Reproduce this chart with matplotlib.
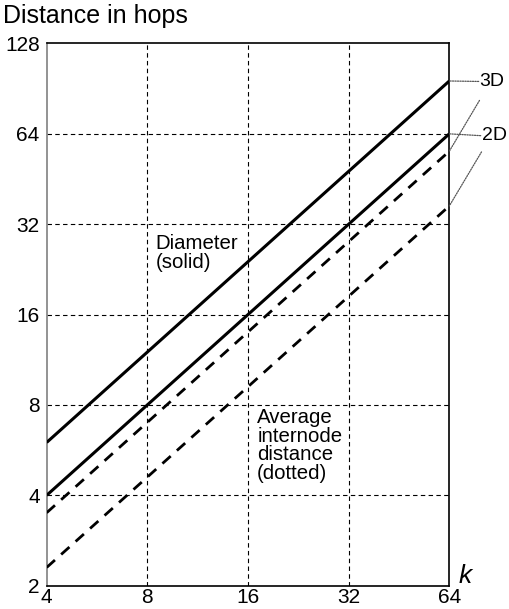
import matplotlib
matplotlib.use("Agg")
from matplotlib import pyplot as plt
from matplotlib.ticker import FixedLocator, NullLocator

plt.rcParams['font.family'] = ['Liberation Sans', 'DejaVu Sans']

# values
k = [4, 8, 16, 32, 64]
diam_3d = [6, 12, 24, 48, 96]
diam_2d = [4, 8, 16, 32, 64]
avg_3d = [3.5, 7, 14, 28, 56]
avg_2d = [2.3, 4.6, 9.2, 18.4, 36.8]

x_ticks = [4, 8, 16, 32, 64]
y_ticks = [2, 4, 8, 16, 32, 64, 128]

fig = plt.figure(figsize=(5.09, 6.09), dpi=100)
ax = fig.add_axes([0.0917, 0.0383, 0.7910, 0.8903])

ax.set_xscale('log', base=2)
ax.set_yscale('log', base=2)
ax.set_xlim(4, 64)
ax.set_ylim(2, 128)

# grid
for gx in x_ticks[1:-1]:
    ax.axvline(gx, color='black', lw=0.8, ls=(0, (4, 3)), zorder=1)
for gy in y_ticks[1:-1]:
    ax.axhline(gy, color='black', lw=0.8, ls=(0, (4, 3)), zorder=1)

ax.plot(k, diam_3d, color='black', lw=2.2, solid_capstyle='butt', zorder=3)
ax.plot(k, diam_2d, color='black', lw=2.2, solid_capstyle='butt', zorder=3)
ax.plot(k, avg_3d, color='black', lw=2.0, ls=(0, (4, 3)), zorder=3)
ax.plot(k, avg_2d, color='black', lw=2.0, ls=(0, (4, 3)), zorder=3)

ax.xaxis.set_major_locator(FixedLocator(x_ticks))
ax.yaxis.set_major_locator(FixedLocator(y_ticks))
ax.xaxis.set_minor_locator(NullLocator())
ax.yaxis.set_minor_locator(NullLocator())
ax.set_xticklabels([str(v) for v in x_ticks])
ax.set_yticklabels([str(v) for v in y_ticks])
ax.tick_params(length=0, labelsize=15, pad=5)
ax.tick_params(axis='x', pad=2)

for side in ['top', 'right', 'bottom']:
    ax.spines[side].set_color('black')
    ax.spines[side].set_linewidth(1.2)
ax.spines['left'].set_color('#808080')
ax.spines['left'].set_linewidth(1.2)

fig.text(0.006, 0.962, 'Distance in hops', fontsize=18, va='baseline', ha='left')
ax.text(1.04, -0.005, 'k', transform=ax.transAxes, fontsize=19, style='italic',
        ha='center', va='bottom')

ax.text(0.27, 0.648, 'Diameter\n(solid)', transform=ax.transAxes, fontsize=14.7,
        ha='left', va='top', linespacing=0.98)
ax.text(0.523, 0.328, 'Average\ninternode\ndistance\n(dotted)', transform=ax.transAxes,
        fontsize=14.7, ha='left', va='top', linespacing=0.98)

# leader lines to the labels
lead = dict(arrowstyle='-', color='#555555', lw=0.9, ls=(0, (1, 1)), shrinkA=0, shrinkB=0)
ax.text(1.075, 0.93, '3D', transform=ax.transAxes, fontsize=14, ha='left', va='center')
ax.text(1.08, 0.83, '2D', transform=ax.transAxes, fontsize=14, ha='left', va='center')
ax.annotate('', xy=(64, diam_3d[-1]), xytext=(1.073, 0.93), textcoords='axes fraction',
            arrowprops=lead, annotation_clip=False)
ax.annotate('', xy=(64, avg_3d[-1]), xytext=(1.075, 0.895), textcoords='axes fraction',
            arrowprops=lead, annotation_clip=False)
ax.annotate('', xy=(64, diam_2d[-1]), xytext=(1.078, 0.83), textcoords='axes fraction',
            arrowprops=lead, annotation_clip=False)
ax.annotate('', xy=(64, avg_2d[-1]), xytext=(1.08, 0.80), textcoords='axes fraction',
            arrowprops=lead, annotation_clip=False)

fig.savefig('out.png', dpi=100)
